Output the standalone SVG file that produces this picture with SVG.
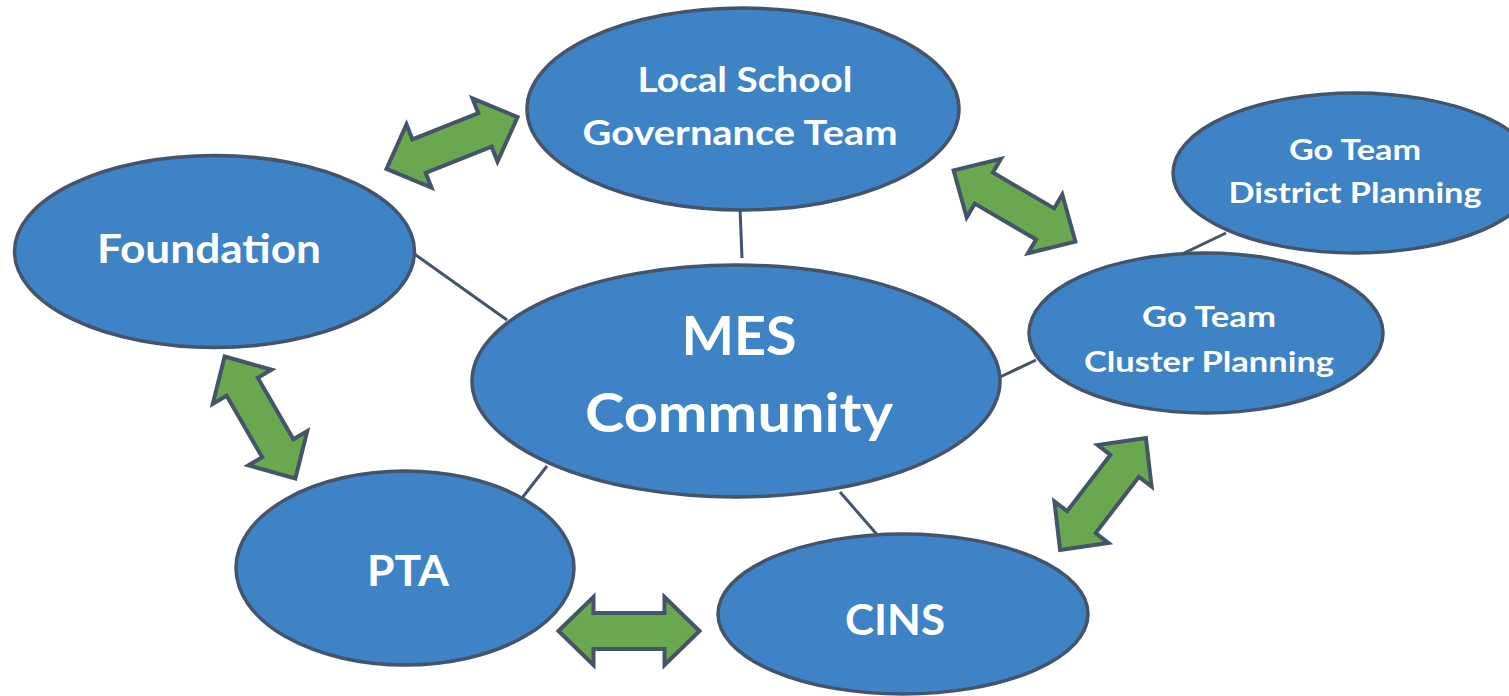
<svg xmlns="http://www.w3.org/2000/svg" xmlns:xlink="http://www.w3.org/1999/xlink" width="1509" height="696" viewBox="0 0 1509 696">
<style>
.node{fill:#3D83C6;stroke:#44546A;stroke-width:3.5}
.lbl{fill:#ffffff;font-family:Lato,"Liberation Sans",sans-serif;font-weight:bold;text-anchor:middle}
.conn{stroke:#44546A;stroke-width:3;fill:none}
.dbl{fill:#6AA84F;stroke:#44546A;stroke-width:4;stroke-linejoin:miter}
</style>
<defs>
<path id="darrow" class="dbl" d="M -70.5,0 L -35.5,-34 L -35.5,-18 L 35.5,-18 L 35.5,-34 L 70.5,0 L 35.5,34 L 35.5,18 L -35.5,18 L -35.5,34 Z"/>
</defs>
<rect width="1509" height="696" fill="#ffffff"/>
<g id="connectors">
<line class="conn" x1="740" y1="208" x2="742" y2="258"/>
<line class="conn" x1="413" y1="253" x2="507" y2="320"/>
<line class="conn" x1="998" y1="378" x2="1036" y2="360"/>
<line class="conn" x1="1180" y1="255" x2="1226" y2="233"/>
<line class="conn" x1="547" y1="466" x2="522" y2="498"/>
<line class="conn" x1="840" y1="492" x2="880" y2="538"/>
<use xlink:href="#darrow" href="#darrow" transform="translate(452,143) rotate(-21.6)"/>
<use xlink:href="#darrow" href="#darrow" transform="translate(1014.5,206) rotate(30.3)"/>
<use xlink:href="#darrow" href="#darrow" transform="translate(260,417.5) rotate(59.9)"/>
<use xlink:href="#darrow" href="#darrow" transform="translate(1103,494) rotate(-52.5)"/>
<use xlink:href="#darrow" href="#darrow" transform="translate(629,631)"/>
</g>
<g id="lsgt">
<ellipse class="node" cx="743" cy="109" rx="216" ry="101"/>
<text class="lbl" x="745" y="92" font-size="35" textLength="215" lengthAdjust="spacingAndGlyphs">Local School</text>
<text class="lbl" x="740" y="145" font-size="35" textLength="315" lengthAdjust="spacingAndGlyphs">Governance Team</text>
</g>
<g id="district">
<ellipse class="node" cx="1355" cy="173" rx="182" ry="80"/>
<text class="lbl" x="1355" y="160" font-size="29" textLength="132" lengthAdjust="spacingAndGlyphs">Go Team</text>
<text class="lbl" x="1355" y="203" font-size="29" textLength="253" lengthAdjust="spacingAndGlyphs">District Planning</text>
</g>
<g id="foundation">
<ellipse class="node" cx="214.5" cy="251.5" rx="200" ry="96"/>
<text class="lbl" x="209" y="263" font-size="41" textLength="224" lengthAdjust="spacingAndGlyphs">Foundation</text>
</g>
<g id="mes">
<ellipse class="node" cx="736" cy="381" rx="264" ry="116"/>
<text class="lbl" x="739" y="355" font-size="53" textLength="115" lengthAdjust="spacingAndGlyphs">MES</text>
<text class="lbl" x="739" y="432" font-size="53" textLength="308" lengthAdjust="spacingAndGlyphs">Community</text>
</g>
<g id="cluster">
<ellipse class="node" cx="1206" cy="333" rx="177" ry="80"/>
<text class="lbl" x="1209" y="327" font-size="29" textLength="134" lengthAdjust="spacingAndGlyphs">Go Team</text>
<text class="lbl" x="1209" y="372" font-size="29" textLength="250" lengthAdjust="spacingAndGlyphs">Cluster Planning</text>
</g>
<g id="pta">
<ellipse class="node" cx="405" cy="568" rx="169" ry="97"/>
<text class="lbl" x="408" y="586" font-size="42" textLength="82" lengthAdjust="spacingAndGlyphs">PTA</text>
</g>
<g id="cins">
<ellipse class="node" cx="903" cy="614" rx="185" ry="80"/>
<text class="lbl" x="895" y="635" font-size="42" textLength="100" lengthAdjust="spacingAndGlyphs">CINS</text>
</g>
</svg>
